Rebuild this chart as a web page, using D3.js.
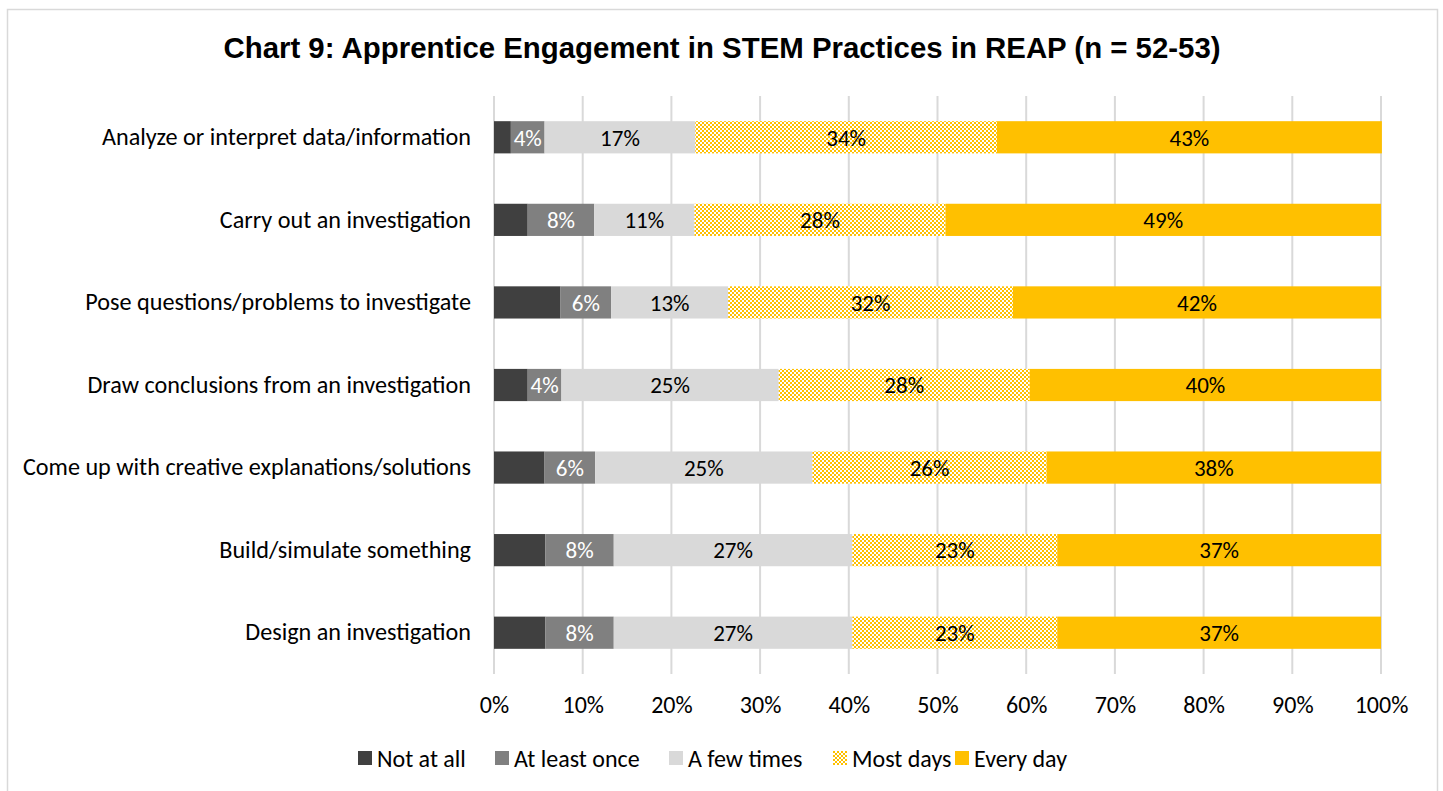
<!DOCTYPE html>
<html>
<head>
<meta charset="utf-8">
<script src="https://cdn.jsdelivr.net/npm/d3@7"></script>
<style>
  body { margin: 0; background: #fff; }
  svg { display: block; }
</style>
</head>
<body>
<script>
// categories, top to bottom
let categories = [
  'Analyze or interpret data/information',
  'Carry out an investigation',
  'Pose questions/problems to investigate',
  'Draw conclusions from an investigation',
  'Come up with creative explanations/solutions',
  'Build/simulate something',
  'Design an investigation'
];
let seriesNames = ['Not at all', 'At least once', 'A few times', 'Most days', 'Every day'];

// percent per series, same order as categories
let notAtAll    = [1.9, 3.8, 7.5, 3.8, 5.7, 5.8, 5.8];
let atLeastOnce = [3.8, 7.5, 5.7, 3.8, 5.7, 7.7, 7.7];
let aFewTimes   = [17.0, 11.3, 13.2, 24.5, 24.5, 26.9, 26.9];
let mostDays    = [34.0, 28.3, 32.1, 28.3, 26.4, 23.1, 23.1];
let everyDay    = [43.4, 49.1, 41.5, 39.6, 37.7, 36.5, 36.5];

let xTicks = [0, 10, 20, 30, 40, 50, 60, 70, 80, 90, 100];

let width = 1443, height = 791;
let leftPadding = 494, rightEdge = 1381;
let topPlot = 96, bottomPlot = 674;

let labelFont = 'Carlito, Calibri, Lato, sans-serif';

let svg = d3.select('body').append('svg')
  .attr('width', width)
  .attr('height', height);

// hatch pattern for "Most days"
let defs = svg.append('defs');
let pat = defs.append('pattern')
  .attr('id', 'checker')
  .attr('patternUnits', 'userSpaceOnUse')
  .attr('width', 4).attr('height', 4);
pat.append('rect').attr('width', 4).attr('height', 4).attr('fill', '#fff');
pat.append('rect').attr('x', 0).attr('y', 0).attr('width', 2).attr('height', 2).attr('fill', '#FFC000');
pat.append('rect').attr('x', 2).attr('y', 2).attr('width', 2).attr('height', 2).attr('fill', '#FFC000');

let fills = ['#404040', '#808080', '#d9d9d9', 'url(#checker)', '#FFC000'];
let textColors = [null, '#fff', '#000', '#000', '#000'];

// outer frame
svg.append('rect')
  .attr('x', 7.5).attr('y', 9.5)
  .attr('width', 1430).attr('height', 800)
  .attr('fill', '#fff')
  .attr('stroke', '#d9d9d9')
  .attr('stroke-width', 1.5);

svg.append('text')
  .attr('x', 722).attr('y', 58)
  .attr('text-anchor', 'middle')
  .style('font-family', 'Liberation Sans, Arial, sans-serif')
  .style('font-weight', 'bold')
  .style('font-size', '29.4px')
  .text('Chart 9: Apprentice Engagement in STEM Practices in REAP (n = 52-53)');

let xScale = d3.scaleLinear().domain([0, 100]).range([leftPadding, rightEdge]);
let yScale = d3.scaleBand().domain(categories).range([topPlot, bottomPlot]).paddingInner(0.61).paddingOuter(0.305);

// gridlines
svg.append('g').selectAll('line')
  .data(xTicks)
  .enter().append('line')
  .attr('x1', d => xScale(d)).attr('x2', d => xScale(d))
  .attr('y1', topPlot).attr('y2', bottomPlot)
  .attr('stroke', '#d9d9d9')
  .attr('stroke-width', 2);

// x axis labels
let xAxis = d3.axisBottom(xScale).tickValues(xTicks).tickFormat(d => d + '%').tickSize(0).tickPadding(22);
let xg = svg.append('g').attr('transform', 'translate(0,' + bottomPlot + ')').call(xAxis);
xg.select('.domain').remove();
xg.selectAll('text')
  .style('font-family', labelFont)
  .style('font-size', '24px')
  .attr('fill', '#000');

// category labels
let yAxis = d3.axisLeft(yScale).tickSize(0).tickPadding(23);
let yg = svg.append('g').attr('transform', 'translate(' + leftPadding + ',0)').call(yAxis);
yg.select('.domain').remove();
yg.selectAll('text')
  .style('font-family', labelFont)
  .style('font-size', '24.2px')
  .attr('fill', '#000');

// stacking
let rows = categories.map((c, i) => ({
  cat: c,
  'Not at all': notAtAll[i],
  'At least once': atLeastOnce[i],
  'A few times': aFewTimes[i],
  'Most days': mostDays[i],
  'Every day': everyDay[i]
}));
let stacked = d3.stack().keys(seriesNames)(rows);

let layers = svg.append('g').selectAll('g')
  .data(stacked)
  .enter().append('g');

layers.selectAll('rect')
  .data(d => d.map(p => Object.assign(p, { key: d.key, idx: d.index })))
  .enter().append('rect')
  .attr('x', d => xScale(d[0]))
  .attr('y', d => yScale(d.data.cat))
  .attr('width', d => xScale(d[1]) - xScale(d[0]))
  .attr('height', yScale.bandwidth())
  .attr('fill', d => fills[d.idx]);

layers.filter(d => d.index > 0).selectAll('text')
  .data(d => d)
  .enter().append('text')
  .attr('x', d => (xScale(d[0]) + xScale(d[1])) / 2)
  .attr('y', d => yScale(d.data.cat) + yScale.bandwidth() / 2)
  .attr('dy', '0.36em')
  .attr('text-anchor', 'middle')
  .style('font-family', labelFont)
  .style('font-size', '23px')
  .attr('fill', d => textColors[d.idx])
  .text(d => Math.round(d[1] - d[0]) + '%');

// legend
let legendX = [358, 495, 669, 833, 955];
let legend = svg.append('g').selectAll('g')
  .data(seriesNames)
  .enter().append('g')
  .attr('transform', (d, i) => 'translate(' + legendX[i] + ',751)');
legend.append('rect')
  .attr('width', 14).attr('height', 14)
  .attr('fill', (d, i) => fills[i]);
legend.append('text')
  .attr('x', 19).attr('y', 7)
  .attr('dy', '0.36em')
  .style('font-family', labelFont)
  .style('font-size', '24px')
  .text(d => d);
</script>
</body>
</html>
